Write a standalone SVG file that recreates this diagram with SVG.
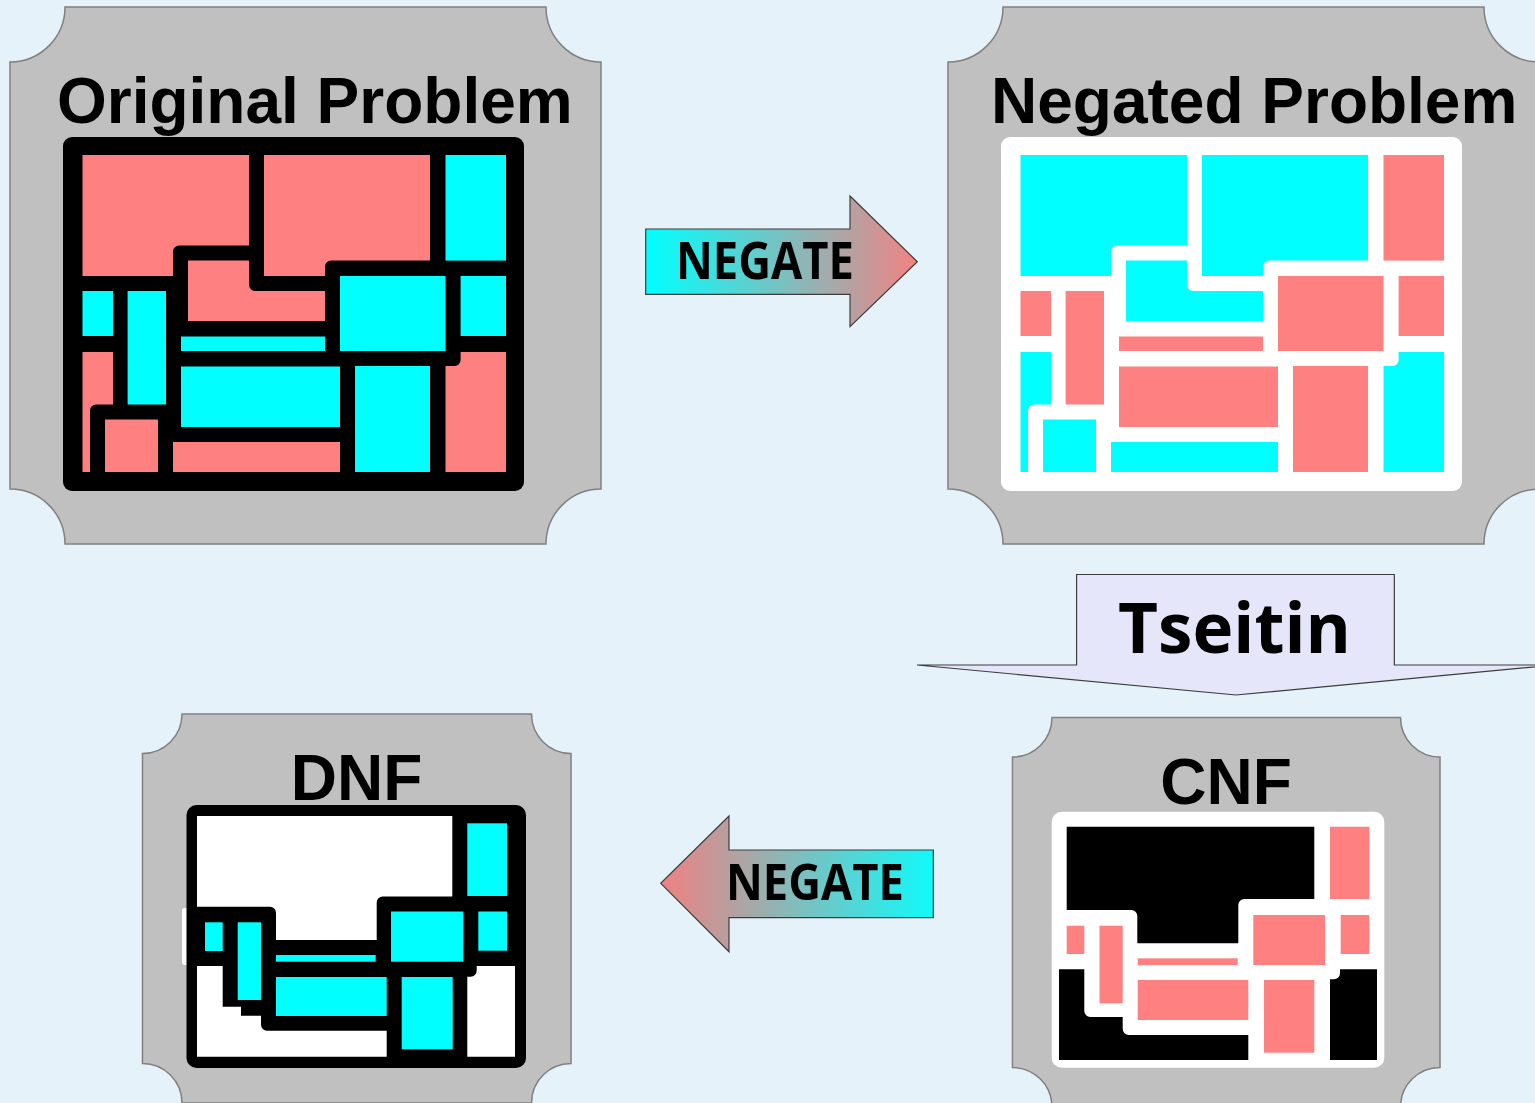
<svg xmlns="http://www.w3.org/2000/svg" xmlns:xlink="http://www.w3.org/1999/xlink" width="1535" height="1103" viewBox="0 0 1535 1103">
  <style>
    .plaque { fill: #c0c0c0; stroke: #808080; stroke-width: 1.5; }
    .title { font-family: "Liberation Sans", Arial, sans-serif; font-weight: bold; font-size: 64px; fill: #000; }
    .lbl { font-family: "Open Sans", "Noto Sans", "DejaVu Sans", sans-serif; font-weight: bold; fill: #000; }
    .arrow { stroke: #3c3c3c; stroke-width: 1.2; stroke-linejoin: miter; }
    .pink { fill: #ff8080; }
    .cyan { fill: #00ffff; }
  </style>
  <defs>
    <linearGradient id="fadeRight" gradientUnits="userSpaceOnUse" x1="646" y1="0" x2="917" y2="0">
      <stop offset="0" stop-color="#00ffff"/>
      <stop offset="1" stop-color="#f28282"/>
    </linearGradient>
    <linearGradient id="fadeLeft" gradientUnits="userSpaceOnUse" x1="661" y1="0" x2="933" y2="0">
      <stop offset="0" stop-color="#f08080"/>
      <stop offset="1" stop-color="#10fafa"/>
    </linearGradient>

    <!-- concave-cornered plaque outlines -->
    <path id="plaqueBig" d="M65,7 H546 A55,55 0 0 0 601,62 V489 A55,55 0 0 0 546,544 H65 A55,55 0 0 0 10,489 V62 A55,55 0 0 0 65,7 Z"/>

    <!-- partition cells of the problem grid, first colour set -->
    <g id="cellsA">
      <path d="M82.5,155 H249 V245.5 H179 A6,6 0 0 0 173,251.5 V276 H82.5 Z"/>
      <path d="M264,155 H430 V260.6 H331 A6,6 0 0 0 325,266.6 V276 H264 Z"/>
      <path d="M188,260.6 H249 V285 A6,6 0 0 0 255,291 H325 V321 H188 Z"/>
      <path d="M82.5,352 H113 V404.5 H96 A6,6 0 0 0 90,410.5 V472 H82.5 Z"/>
      <rect x="105" y="419.5" width="53" height="52.5"/>
      <rect x="173" y="442" width="167" height="30"/>
      <path d="M460.6,352 H506 V472 H445.5 V366 H454.6 A6,6 0 0 0 460.6,360 Z"/>
    </g>
    <!-- partition cells of the problem grid, second colour set -->
    <g id="cellsB">
      <rect x="445.5" y="155" width="60.5" height="105.6"/>
      <rect x="82.5" y="291" width="30.5" height="45"/>
      <rect x="127.6" y="291" width="38.4" height="113.5"/>
      <rect x="181" y="336.5" width="144" height="14.5"/>
      <rect x="340" y="276" width="105.5" height="75"/>
      <rect x="460.6" y="276" width="45.4" height="60"/>
      <rect x="181" y="366.5" width="159" height="60.5"/>
      <rect x="355" y="366" width="75" height="106"/>
    </g>
  </defs>

  <rect width="1535" height="1103" fill="#e5f2f9"/>

  <!-- Original Problem -->
  <g id="original-problem">
    <use xlink:href="#plaqueBig" class="plaque"/>
    <text class="title" x="57" y="122.5">Original Problem</text>
    <rect x="63" y="137" width="461" height="354" rx="9" fill="#000"/>
    <use xlink:href="#cellsA" fill="#ff8080"/>
    <use xlink:href="#cellsB" fill="#00ffff"/>
  </g>

  <!-- Negated Problem -->
  <g id="negated-problem">
    <use xlink:href="#plaqueBig" class="plaque" x="938"/>
    <text class="title" x="991" y="122.5">Negated Problem</text>
    <rect x="1001" y="137" width="461" height="354" rx="9" fill="#fff"/>
    <use xlink:href="#cellsA" x="938" fill="#00ffff"/>
    <use xlink:href="#cellsB" x="938" fill="#ff8080"/>
  </g>

  <!-- CNF -->
  <g id="cnf">
    <path class="plaque" d="M1052,717.5 H1400.5 A39.5,39.5 0 0 0 1440,757 V1067.5 A39.5,39.5 0 0 0 1400.5,1107 H1052 A39.5,39.5 0 0 0 1012.5,1067.5 V757 A39.5,39.5 0 0 0 1052,717.5 Z"/>
    <text class="title" x="1226" y="803.5" text-anchor="middle">CNF</text>
    <rect x="1051.7" y="811.7" width="332.6" height="256" rx="10" fill="#fff"/>
    <path fill="#000" d="M1066.7,826.7 H1314.3 V899 H1244.3 A6,6 0 0 0 1238.3,905 V943.3 H1137.3 V916 A6,6 0 0 0 1131.3,910 H1066.7 Z"/>
    <path fill="#000" d="M1059,969.3 H1084.3 V1011 A6,6 0 0 0 1090.3,1017 H1122.7 V1029 A6,6 0 0 0 1128.7,1035 H1248.3 V1060 H1059 Z"/>
    <path fill="#000" d="M1340,969.3 H1377 V1060 H1330 V979.3 H1334 A6,6 0 0 0 1340,973.3 Z"/>
    <rect class="pink" x="1330" y="826.7" width="39.3" height="72.3"/>
    <rect class="pink" x="1066.7" y="925.7" width="17.6" height="28.3"/>
    <rect class="pink" x="1099.5" y="925.7" width="23.2" height="77.6"/>
    <rect class="pink" x="1137.7" y="958.3" width="100" height="6.7"/>
    <rect class="pink" x="1253.3" y="915" width="71.7" height="50"/>
    <rect class="pink" x="1340.7" y="915" width="28.6" height="39"/>
    <rect class="pink" x="1137.7" y="980" width="110.6" height="40"/>
    <rect class="pink" x="1264" y="980" width="50.3" height="72.7"/>
  </g>

  <!-- DNF -->
  <g id="dnf">
    <path class="plaque" d="M182,714 H531.5 A39.5,39.5 0 0 0 571,753.5 V1063.5 A39.5,39.5 0 0 0 531.5,1103 H182 A39.5,39.5 0 0 0 142.5,1063.5 V753.5 A39.5,39.5 0 0 0 182,714 Z"/>
    <text class="title" x="356.5" y="800" text-anchor="middle">DNF</text>
    <rect x="182" y="908" width="8" height="57" rx="3" fill="#fff"/>
    <rect x="186.5" y="805" width="339.5" height="263" rx="10" fill="#000"/>
    <path fill="#fff" d="M197,816 H452.3 V896.5 H382.7 A6,6 0 0 0 376.7,902.5 V940 H276 V912.7 A6,6 0 0 0 270,906.7 H197 Z"/>
    <path fill="#fff" d="M197,966 H222.7 V1006.7 H241 V1015.7 H261 V1024.7 A6,6 0 0 0 267,1030.7 H386.7 V1056.7 H197 Z"/>
    <path fill="#fff" d="M476.7,966 H515 V1056.7 H467.3 V976.7 H470.7 A6,6 0 0 0 476.7,970.7 Z"/>
    <rect class="cyan" x="467.3" y="823.3" width="39.7" height="72.7"/>
    <rect class="cyan" x="205" y="922.3" width="17.7" height="28.7"/>
    <rect class="cyan" x="237.7" y="922.3" width="23.3" height="77.7"/>
    <rect class="cyan" x="276" y="955" width="99.7" height="6.7"/>
    <rect class="cyan" x="391" y="911.5" width="72.3" height="50.2"/>
    <rect class="cyan" x="478.3" y="911.5" width="28.7" height="39.2"/>
    <rect class="cyan" x="276" y="977" width="110.7" height="39"/>
    <rect class="cyan" x="401.7" y="977" width="51" height="72.3"/>
  </g>

  <!-- transformation arrows -->
  <g id="connectors">
    <g id="negate-forward">
      <polygon class="arrow" fill="url(#fadeRight)" points="645.7,229 850,229 850,196 917.3,261.7 850,326.7 850,294.3 645.7,294.3"/>
      <text class="lbl" x="676" y="278.5" font-size="52" textLength="178" lengthAdjust="spacingAndGlyphs">NEGATE</text>
    </g>
    <g id="tseitin">
      <polygon class="arrow" fill="#e6e6fa" points="1076.6,574.5 1394.3,574.5 1394.3,665 1554,665 1236,695 917,665 1076.6,665"/>
      <text class="lbl" x="1118" y="652.7" font-size="69" textLength="233" lengthAdjust="spacingAndGlyphs">Tseitin</text>
    </g>
    <g id="negate-back">
      <polygon class="arrow" fill="url(#fadeLeft)" points="933.3,850 729,850 729,816 660.7,883.3 729,951.7 729,917.7 933.3,917.7"/>
      <text class="lbl" x="726" y="900" font-size="51" textLength="178" lengthAdjust="spacingAndGlyphs">NEGATE</text>
    </g>
  </g>
</svg>
